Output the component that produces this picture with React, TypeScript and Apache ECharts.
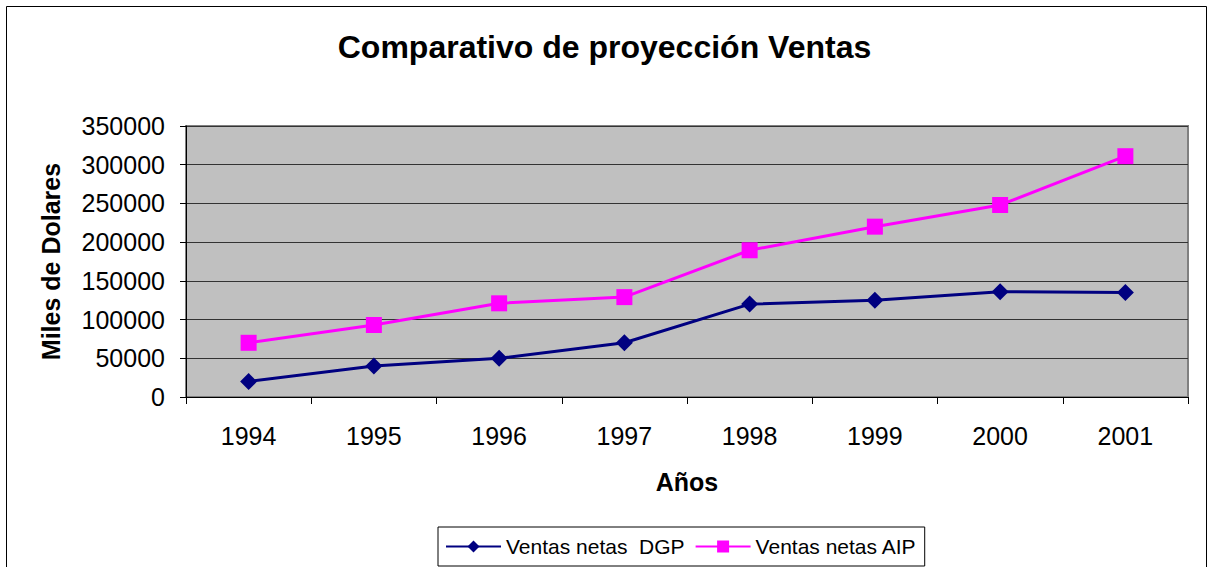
import React, { useEffect, useRef } from "react";
import * as echarts from "echarts";

const years = ["1994", "1995", "1996", "1997", "1998", "1999", "2000", "2001"];
const ventasDGP = [20000, 40000, 50000, 70000, 120000, 125000, 136000, 135000];
const ventasAIP = [70000, 93000, 121000, 129000, 189500, 220000, 248000, 311000];
const seriesNames = ["Ventas netas  DGP", "Ventas netas AIP"];

const FONT = "'Liberation Sans', Arial, sans-serif";

export default function App() {
  const ref = useRef<HTMLDivElement>(null);
  useEffect(() => {
    if (!ref.current) return;
    const chart = echarts.init(ref.current, undefined, { renderer: "svg" });
    chart.setOption({
      animation: false,
      backgroundColor: "#ffffff",
      textStyle: { fontFamily: FONT },
      title: {
        text: "Comparativo de proyección Ventas",
        left: "center",
        top: 26,
        textStyle: { fontSize: 32, fontWeight: "bold", color: "#000", fontFamily: FONT },
      },
      graphic: [
        {
          type: "rect",
          shape: { x: 6.5, y: 6.5, width: 1200, height: 580 },
          style: { fill: "none", stroke: "#000", lineWidth: 1 },
          silent: true,
          z: -10,
        },
      ],
      legend: {
        left: 438,
        top: 527,
        width: 498,
        height: 34,
        padding: [9, 8, 9, 7],
        itemGap: 10,
        itemWidth: 55,
        itemHeight: 15,
        borderColor: "#000",
        borderWidth: 1,
        backgroundColor: "#fff",
        textStyle: { fontSize: 21, color: "#000", fontFamily: FONT },
        data: seriesNames,
      },
      grid: {
        left: 186,
        right: 21,
        top: 126,
        bottom: 170,
        show: true,
        backgroundColor: "#c0c0c0",
        borderColor: "#808080",
        borderWidth: 2,
        containLabel: false,
      },
      xAxis: {
        type: "category",
        data: years,
        boundaryGap: true,
        name: "Años",
        nameLocation: "middle",
        nameGap: 72,
        nameTextStyle: { fontSize: 25, fontWeight: "bold", color: "#000", fontFamily: FONT },
        axisLine: { show: true, lineStyle: { color: "#000", width: 1 } },
        axisTick: { show: true, alignWithLabel: false, length: 7, inside: false, lineStyle: { color: "#000" } },
        axisLabel: { fontSize: 25, color: "#000", margin: 26, fontFamily: FONT },
        splitLine: { show: false },
      },
      yAxis: {
        type: "value",
        min: 0,
        max: 350000,
        interval: 50000,
        name: "Miles de Dolares",
        nameLocation: "middle",
        nameGap: 123,
        nameTextStyle: { fontSize: 25, fontWeight: "bold", color: "#000", fontFamily: FONT },
        axisLine: { show: true, lineStyle: { color: "#000", width: 1 } },
        axisTick: { show: true, length: 6, lineStyle: { color: "#000" } },
        axisLabel: {
          fontSize: 25,
          color: "#000",
          margin: 21,
          fontFamily: FONT,
          formatter: (v: number) => String(v),
        },
        splitLine: { show: true, lineStyle: { color: "#333", width: 1 } },
      },
      series: [
        {
          name: seriesNames[0],
          type: "line",
          data: ventasDGP,
          symbol: "diamond",
          symbolSize: 17,
          lineStyle: { color: "#000080", width: 3 },
          itemStyle: { color: "#000080" },
        },
        {
          name: seriesNames[1],
          type: "line",
          data: ventasAIP,
          symbol: "rect",
          symbolSize: 16,
          lineStyle: { color: "#ff00ff", width: 3 },
          itemStyle: { color: "#ff00ff" },
        },
      ],
    });
    return () => chart.dispose();
  }, []);
  return (
    <div
      ref={ref}
      style={{ position: "absolute", left: 0, top: 0, width: 1209, height: 567 }}
    />
  );
}
